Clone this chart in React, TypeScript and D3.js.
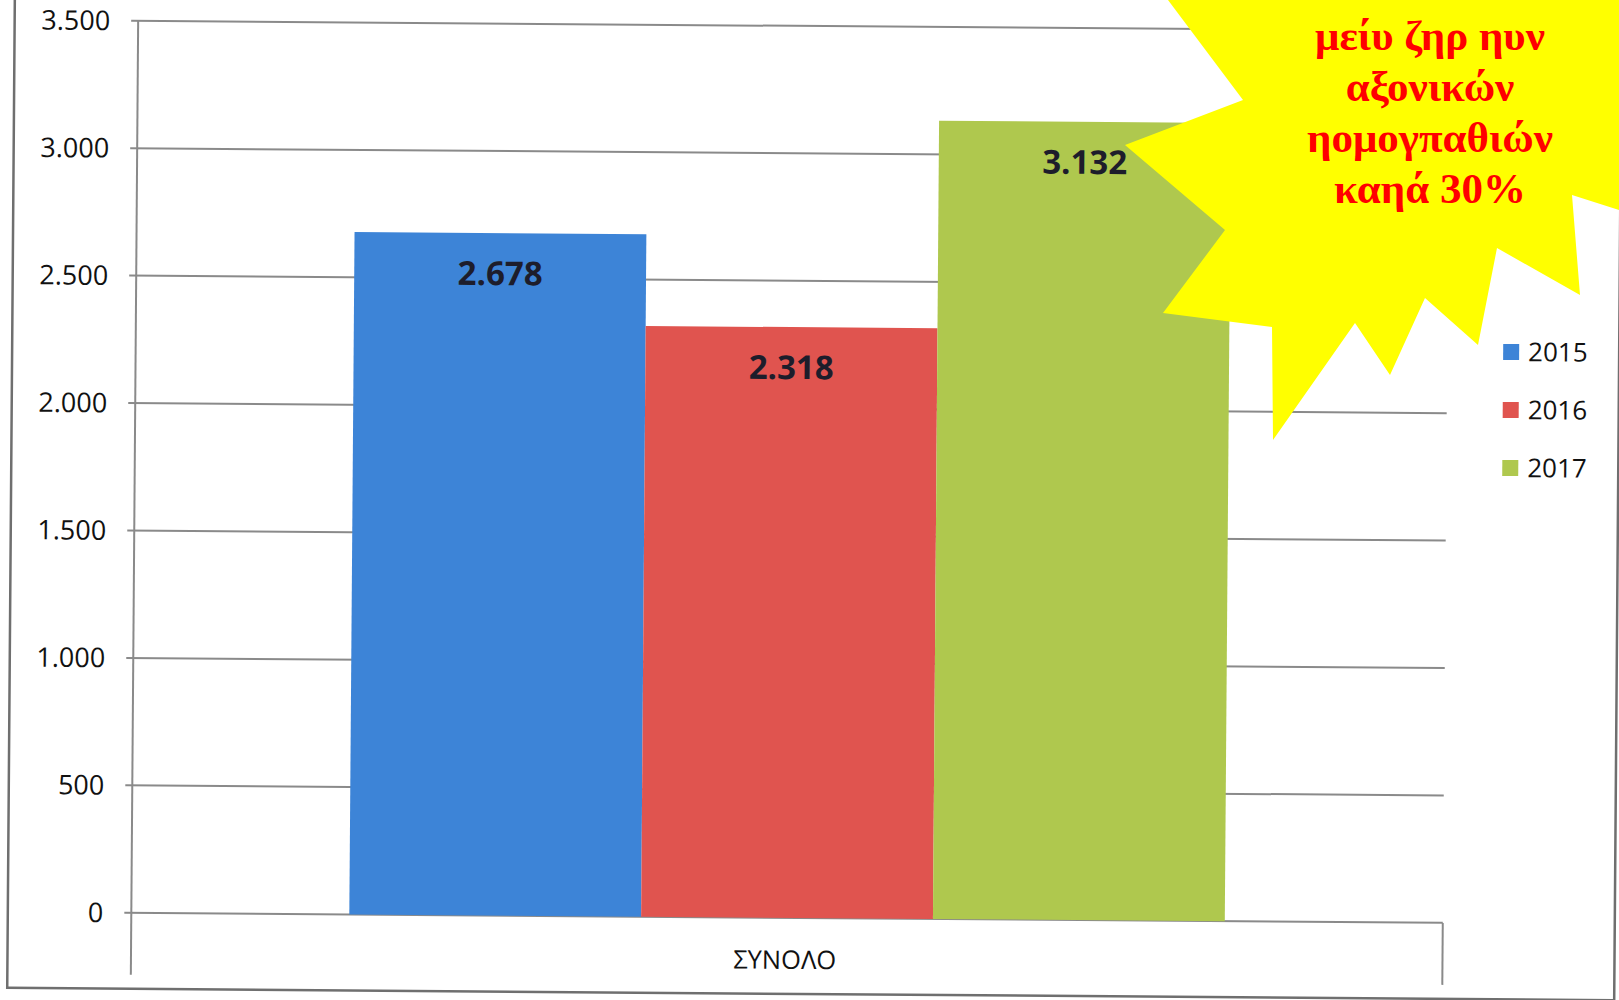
import React from "react";
import * as d3 from "d3";

const categories = ["ΣΥΝΟΛΟ"];
const years = ["2015", "2016", "2017"];
const values = [2678, 2318, 3132];
const yTicks = [0, 500, 1000, 1500, 2000, 2500, 3000, 3500];
const colors = ["#3D84D7", "#E0544F", "#AFC84E"];

const burstLines = ["μείυ ζηρ ηυν", "αξονικών", "ηομογπαθιών", "καηά 30%"];
const burstPoints: [number, number][] = [
  [1168, 0], [1243, 100], [1125, 145], [1225, 230], [1163, 313], [1272, 327],
  [1273, 440], [1355, 323], [1390, 375], [1425, 298], [1478, 345], [1497, 248],
  [1580, 295], [1572, 195], [1619, 210], [1619, 0],
];

const locale = d3.formatLocale({ decimal: ",", thousands: ".", grouping: [3], currency: ["", "€"] });
const fmt = locale.format(",");

export default function App() {
  const W = 1619, H = 1000;
  const left = 134.5, right = 1446, zeroY = 918, topY = 26;
  const x0 = d3.scaleBand<string>().domain(categories).range([left, right]).paddingOuter(0.249).paddingInner(0);
  const x1 = d3.scaleBand<string>().domain(years).range([0, x0.bandwidth()]).padding(0);
  const y = d3.scaleLinear().domain([0, 3500]).range([zeroY, topY]);
  const font = "'Open Sans', 'Noto Sans', sans-serif";
  const grid = "#8a8a8a";
  const line = d3.line();

  return (
    <svg width={W} height={H} style={{ position: "absolute", left: 0, top: 0, background: "#fff" }}>
      <rect x={0} y={0} width={W} height={H} fill="#fff" />
      <g transform="rotate(0.44 810 500)">
        <rect x={11} y={-30} width={1607} height={1024} fill="none" stroke="#6f6f6f" strokeWidth={2.5} />
        {yTicks.map((t) => (
          <g key={t}>
            <line x1={left - 7} x2={right} y1={y(t)} y2={y(t)} stroke={grid} strokeWidth={2} />
            <text x={left - 28} y={y(t)} dy="0.35em" textAnchor="end" fontFamily={font} fontSize={27} fill="#111">
              {fmt(t)}
            </text>
          </g>
        ))}
        <line x1={left} x2={left} y1={topY} y2={980} stroke={grid} strokeWidth={2} />
        <line x1={right} x2={right} y1={zeroY} y2={980} stroke={grid} strokeWidth={2} />
        {categories.map((c) => (
          <g key={c} transform={`translate(${x0(c)},0)`}>
            {years.map((yr, i) => (
              <rect key={yr} x={x1(yr)} y={y(values[i])} width={x1.bandwidth()} height={zeroY - y(values[i])} fill={colors[i]} />
            ))}
            {years.map((yr, i) => (
              <text key={yr + "l"} x={(x1(yr) as number) + x1.bandwidth() / 2} y={y(values[i]) + 52} textAnchor="middle"
                fontFamily={font} fontWeight="bold" fontSize={33} fill="#1d1d2b">
                {fmt(values[i])}
              </text>
            ))}
            <text x={x0.bandwidth() / 2 - 2} y={969} textAnchor="middle" fontFamily={font} fontSize={25.5} fill="#111">{c}</text>
          </g>
        ))}
        {years.map((yr, i) => (
          <g key={yr} transform={`translate(1502,${346.6 + i * 58})`}>
            <rect x={0} y={-8} width={16} height={16} fill={colors[i]} />
            <text x={25} y={0} dy="0.35em" fontFamily={font} fontSize={26} fill="#111">{yr}</text>
          </g>
        ))}
      </g>
      <path d={line(burstPoints) + "Z"} fill="#FFFF00" />
      {burstLines.map((t, i) => (
        <text key={i} x={1430} y={50 + i * 51} textAnchor="middle" fontFamily="'Liberation Serif', 'Times New Roman', serif"
          fontWeight="bold" fontSize={43} fill="#FF0000">{t}</text>
      ))}
    </svg>
  );
}
